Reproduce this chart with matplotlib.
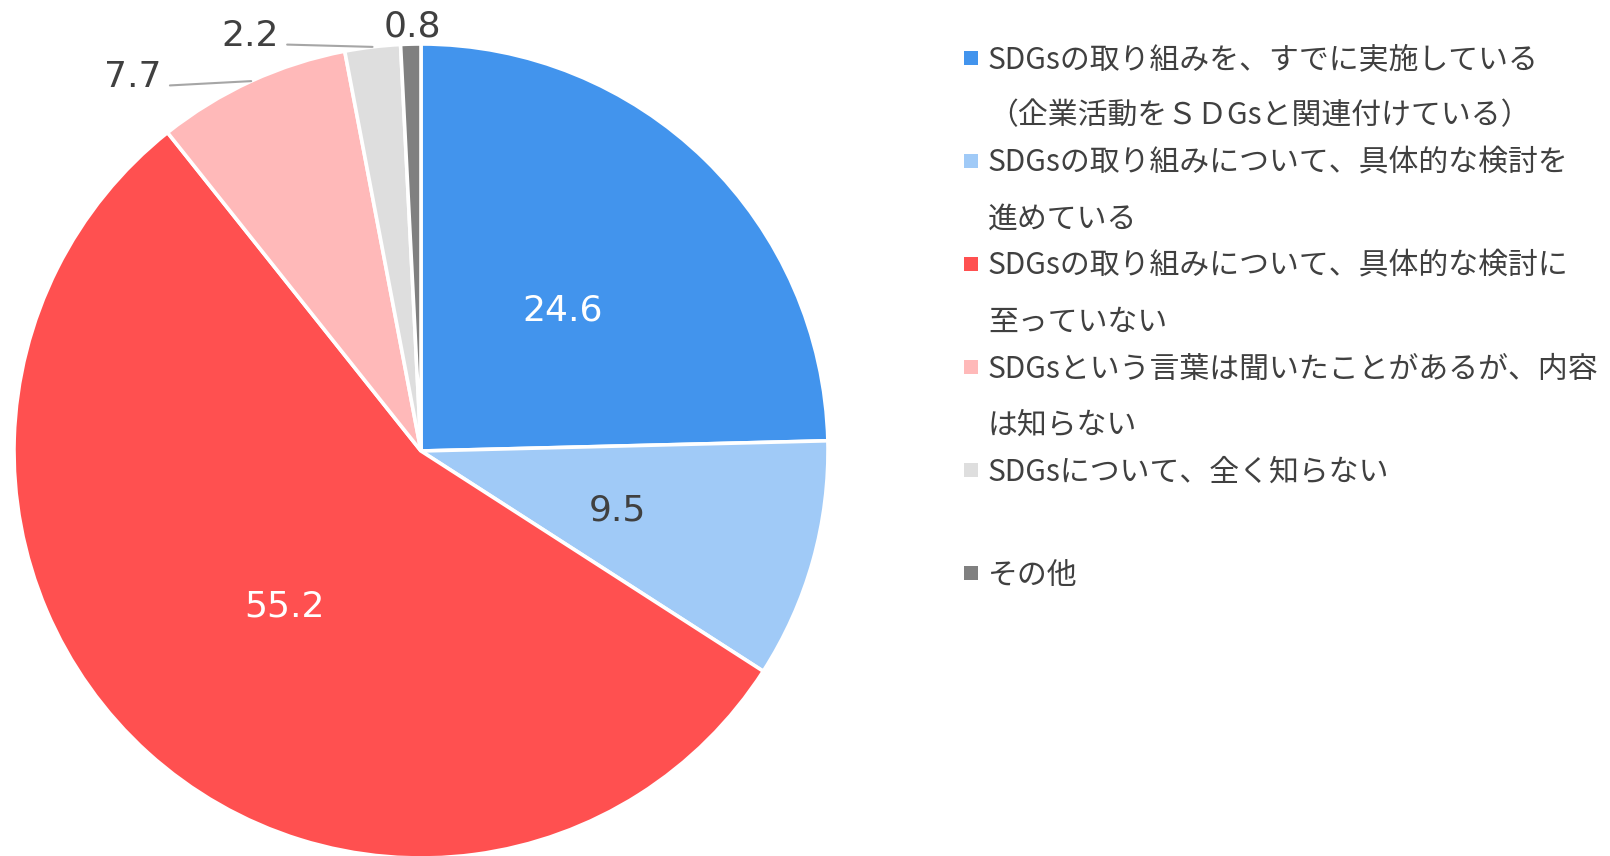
import matplotlib
matplotlib.use('Agg')
import matplotlib.pyplot as plt
from matplotlib.patches import Rectangle
from matplotlib.transforms import offset_copy
import numpy as np

# data
labels = [
    'SDGsの取り組みを、すでに実施している\n（企業活動をＳＤGsと関連付けている）',
    'SDGsの取り組みについて、具体的な検討を\n進めている',
    'SDGsの取り組みについて、具体的な検討に\n至っていない',
    'SDGsという言葉は聞いたことがあるが、内容\nは知らない',
    'SDGsについて、全く知らない',
    'その他',
]
values = [24.6, 9.5, 55.2, 7.7, 2.2, 0.8]
colors = ['#4294ED', '#A0CAF7', '#FF5050', '#FFB9B9', '#DEDEDE', '#808080']
value_colors = ['white', '#404040', 'white', '#404040', '#404040', '#404040']

# outside label positions (data coords) for the small slices
outside = {3: (-0.708, 0.918, (1.0, 0.25)),
           4: (-0.420, 1.020, (1.0, 0.25)),
           5: (-0.020, 1.043, None)}

W, H = 1610, 856
fig = plt.figure(figsize=(W / 100, H / 100), dpi=100)
cx, cy, R = 421, 451, 407
ax = fig.add_axes([(cx - R) / W, (H - cy - R) / H, 2 * R / W, 2 * R / H])
ax.axis('off')

wedges, _ = ax.pie(values, colors=colors, startangle=90, counterclock=False,
                   radius=1.0, wedgeprops=dict(edgecolor='white', linewidth=2.6))
ax.set_xlim(-1, 1)
ax.set_ylim(-1, 1)

tr = offset_copy(ax.transData, fig=fig, y=-5, units='dots')
for i, (w, v) in enumerate(zip(wedges, values)):
    ang = np.deg2rad((w.theta1 + w.theta2) / 2)
    if i in outside:
        tx, ty, rel = outside[i]
        if rel is None:
            ax.text(tx, ty, f'{v:.1f}', ha='center', va='center', fontsize=26,
                    color=value_colors[i], family='DejaVu Sans')
        else:
            ax.annotate(f'{v:.1f}', xy=(np.cos(ang), np.sin(ang)), xytext=(tx, ty),
                        ha='center', va='center', fontsize=26, color=value_colors[i],
                        family='DejaVu Sans', annotation_clip=False,
                        arrowprops=dict(arrowstyle='-', color='#A6A6A6', lw=1.5,
                                        shrinkA=4, shrinkB=0, relpos=rel))
    else:
        ax.text(0.5 * np.cos(ang), 0.5 * np.sin(ang), f'{v:.1f}', ha='center',
                va='center', fontsize=26, color=value_colors[i], family='DejaVu Sans',
                transform=tr)

# legend, drawn by hand so the marker sits on the first line
for i, (lab, col) in enumerate(zip(labels, colors)):
    y = 58 + 103 * i
    fig.add_artist(Rectangle((964 / W, 1 - (y + 7) / H), 14 / W, 14 / H,
                             transform=fig.transFigure, facecolor=col, edgecolor='none'))
    for j, line in enumerate(lab.split('\n')):
        fig.text(988 / W, 1 - (y + 2 + 56 * j) / H, line, ha='left', va='center',
                 fontsize=21.5, color='#404040',
                 family=['Noto Sans CJK JP', 'DejaVu Sans'])

fig.savefig('out.png', dpi=100)
